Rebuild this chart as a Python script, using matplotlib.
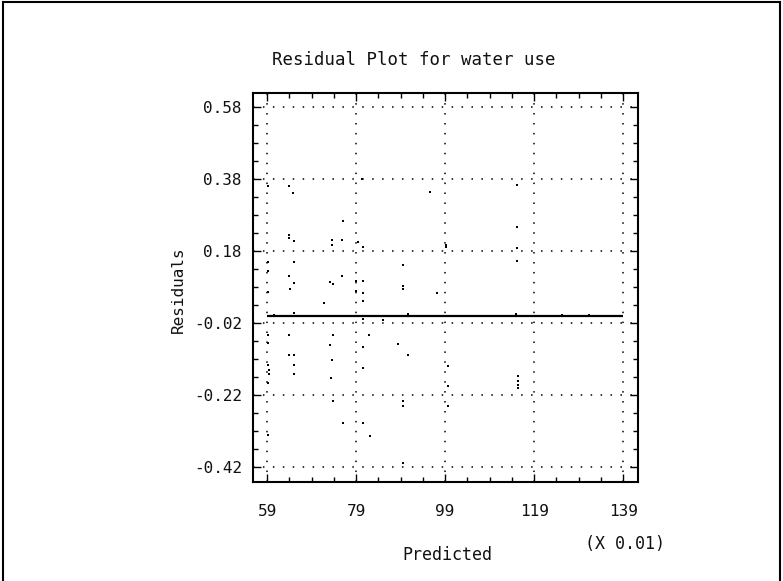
import matplotlib
matplotlib.use("Agg")
import matplotlib.pyplot as plt
from matplotlib.lines import Line2D

# ---- data (predicted in raw units, residuals) ----
predicted = [
    0.803, 0.592, 0.639, 0.648, 0.761, 0.639, 0.639, 0.650, 0.736, 0.736,
    0.759, 0.794, 0.806, 0.592, 0.592, 0.650, 0.639, 0.650, 0.732, 0.738,
    0.759, 0.790, 0.806, 0.642, 0.592, 0.790, 0.806, 0.806, 0.718, 0.650,
    0.606, 0.806, 0.640, 0.738, 0.592, 0.819, 0.592, 0.732, 0.806, 0.640,
    0.650, 0.592, 0.650, 0.736, 0.806, 0.594, 0.594, 0.650, 0.734, 0.592,
    0.738, 0.761, 0.806, 0.592, 0.821, 0.956, 0.992, 0.992, 0.896, 0.896,
    0.896, 0.972, 0.907, 0.851, 0.884, 0.907, 0.997, 0.997, 0.896, 0.896,
    0.997, 0.896, 1.152, 1.152, 1.152, 1.152, 1.150, 1.154, 1.154, 1.154,
    1.154, 1.253, 1.314,
]
residuals = [
    0.380, 0.360, 0.360, 0.340, 0.263, 0.224, 0.216, 0.208, 0.210, 0.197,
    0.210, 0.205, 0.190, 0.150, 0.124, 0.149, 0.110, 0.090, 0.094, 0.088,
    0.110, 0.097, 0.097, 0.074, 0.066, 0.069, 0.063, 0.041, 0.036, 0.008,
    0.002, -0.009, -0.053, -0.053, -0.053, -0.053, -0.076, -0.081, -0.087, -0.109,
    -0.109, -0.137, -0.137, -0.123, -0.145, -0.150, -0.162, -0.162, -0.173, -0.187,
    -0.237, -0.298, -0.298, -0.331, -0.334, 0.344, 0.197, 0.190, 0.141, 0.083,
    0.074, 0.063, 0.005, -0.012, -0.078, -0.109, -0.140, -0.195, -0.237, -0.250,
    -0.250, -0.409, 0.363, 0.247, 0.188, 0.152, 0.005, -0.167, -0.181, -0.192,
    -0.200, 0.003, 0.003,
]
x_ticks = [0.59, 0.79, 0.99, 1.19, 1.39]
x_tick_labels = ["59", "79", "99", "119", "139"]
y_ticks = [0.58, 0.38, 0.18, -0.02, -0.22, -0.42]
y_tick_labels = ["0.58", "0.38", "0.18", "-0.02", "-0.22", "-0.42"]
title = "Residual Plot for water use"

W, H = 783, 581
fig = plt.figure(figsize=(W / 100, H / 100), dpi=100)
fig.patch.set_facecolor("white")

# axes placed in pixel coordinates
L, R, T, B = 253, 638, 93, 482
ax = fig.add_axes([L / W, 1 - B / H, (R - L) / W, (B - T) / H])

mono = "DejaVu Sans Mono"
fs = 11.5
tc = "#111111"

ax.set_xlim(0.5585, 1.4237)
ax.set_ylim(-0.4617, 0.619)

# dotted grid
for xv in x_ticks:
    ax.axvline(xv, color="black", lw=1.1, linestyle=(0, (1, 5.5)), zorder=1)
for yv in y_ticks:
    ax.axhline(yv, color="black", lw=1.1, linestyle=(0, (1, 5.5)), zorder=1)

# zero residual line
ax.hlines(0.0, x_ticks[0], x_ticks[-1], color="black", lw=1.6, zorder=2)

# points
ax.plot(predicted, residuals, linestyle="none", marker="s", markersize=1.7,
        color="black", markeredgewidth=0, zorder=3)

# ticks
ax.set_xticks(x_ticks)
ax.set_xticklabels(x_tick_labels, fontsize=fs, family=mono, color=tc)
ax.set_yticks(y_ticks)
ax.set_yticklabels(y_tick_labels, fontsize=fs, family=mono, color=tc)
xminor = [v / 100 for v in range(59, 140, 5)]
yminor = [(-42 + 5 * i) / 100 for i in range(21)]
ax.set_xticks(xminor, minor=True)
ax.set_yticks(yminor, minor=True)
ax.tick_params(which="both", direction="in", top=True, right=True, width=1.0)
ax.tick_params(which="major", length=6)
ax.tick_params(which="minor", length=3.5)
ax.tick_params(axis="x", which="major", pad=16)
ax.tick_params(axis="y", which="major", pad=8)
for s in ax.spines.values():
    s.set_linewidth(1.5)

# texts
fig.text(414 / W, 1 - 60 / H, title, ha="center", va="center", fontsize=12.5,
         family=mono, color=tc)
fig.text(447 / W, 1 - 555 / H, "Predicted", ha="center", va="center", fontsize=12,
         family=mono, color=tc)
fig.text(625 / W, 1 - 544 / H, "(X 0.01)", ha="center", va="center", fontsize=12,
         family=mono, color=tc)
fig.text(178 / W, 1 - 290 / H, "Residuals", ha="center", va="center", rotation=90,
         fontsize=fs, family=mono, color=tc)

# outer frame (left, top, right)
fig.add_artist(Line2D([3 / W, 3 / W], [0, 1 - 2 / H], transform=fig.transFigure,
                      color="black", lw=1.5))
fig.add_artist(Line2D([3 / W, 780 / W], [1 - 2 / H, 1 - 2 / H], transform=fig.transFigure,
                      color="black", lw=1.5))
fig.add_artist(Line2D([780 / W, 780 / W], [0, 1 - 2 / H], transform=fig.transFigure,
                      color="black", lw=1.5))

fig.savefig("out.png", dpi=100)
